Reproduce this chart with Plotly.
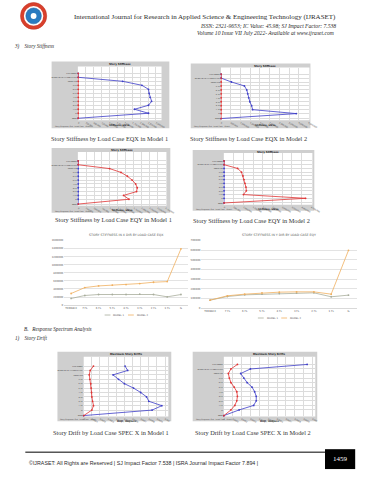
import plotly.graph_objects as go

W, H = 371, 480

# ---------------- data ----------------
levels = ["Base", "G", "1 FL", "2 FL", "3 FL", "4 FL", "5 FL", "6 FL", "7 FL",
          "TERRACE", "OVERHEAD WATER TANK", "LIFT ROOF"]
elev = [0, 3.75, 6.75, 9.75, 12.75, 15.75, 18.75, 21.75, 24.75, 27.75, 30.75, 33.75]

# story stiffness (kN/m), bottom -> top
eqx_m1_x = [0, 2.26e6, 1.81e6, 2.26e6, 2.36e6, 2.31e6, 2.28e6, 2.26e6, 2.05e6, 1.43e6, 0, 0]
eqx_m1_y = [0] * 12
eqx_m2_x = [0, 3.87e6, 1.62e6, 1.57e6, 1.48e6, 1.42e6, 1.37e6, 1.32e6, 1.2e6, 0.53e6, 0, 0]
eqx_m2_y = [0] * 12
eqy_m1_x = [0] * 12
eqy_m1_y = [0, 1.6e6, 1.43e6, 1.84e6, 1.86e6, 1.81e6, 1.7e6, 1.55e6, 1.35e6, 0.99e6, 0, 0]
eqy_m2_x = [0] * 12
eqy_m2_y = [0, 4.2e6, 1.0e6, 1.15e6, 1.13e6, 1.08e6, 1.03e6, 0.98e6, 0.9e6, 0.7e6, 0, 0]

# story drift (unitless), bottom -> top
drift_m1_x = [0, 8.4e-4, 9.6e-4, 8.0e-4, 7.72e-4, 7.0e-4, 6.12e-4, 5.0e-4, 4.28e-4, 3.6e-4, 5.4e-4, 5.08e-4]
drift_m1_y = [0, 1.0e-4, 1.2e-4, 1.08e-4, 1.0e-4, 0.96e-4, 0.92e-4, 0.88e-4, 0.76e-4, 0.68e-4, 0.8e-4, 1.2e-4]
drift_m2_x = [0, 1.72e-4, 3.36e-4, 3.65e-4, 3.65e-4, 3.47e-4, 3.18e-4, 2.63e-4, 2.26e-4, 1.9e-4, 2.99e-4, 9.38e-4]
drift_m2_y = [0, 0.8e-4, 1.24e-4, 1.46e-4, 1.53e-4, 1.46e-4, 1.17e-4, 0.8e-4, 0.62e-4, 0.51e-4, 0.8e-4, 1.53e-4]

# excel comparison charts
cats = ["TERRACE", "7 FL", "6 FL", "5 FL", "4 FL", "3 FL", "2 FL", "1 FL", "G"]
xdir_model1 = [164000, 238000, 262000, 262000, 262000, 270000, 262000, 205000, 262000]
xdir_model2 = [287000, 434000, 475000, 492000, 508000, 533000, 566000, 582000, 1393000]
ydir_model1 = [82000, 120000, 137000, 144000, 151000, 155000, 158000, 117000, 134000]
ydir_model2 = [82000, 127000, 144000, 158000, 165000, 168000, 168000, 144000, 598000]

# ---------------- helpers ----------------
fig = go.Figure()
shapes = []
annotations = []
layout_axes = {}


def fx(x):
    return x / W


def fy(y):
    return 1 - y / H


def text(x, y, s, size, color="#1e1e1e", family="Liberation Serif", xanchor="left",
         bold=False, italic=False, yanchor="middle"):
    if bold:
        s = "<b>" + s + "</b>"
    if italic:
        s = "<i>" + s + "</i>"
    annotations.append(dict(x=fx(x), y=fy(y), xref="paper", yref="paper", text=s,
                            showarrow=False, xanchor=xanchor, yanchor=yanchor,
                            font=dict(size=size, color=color, family=family)))


def rect(x0, y0, x1, y1, fill, line=None, lw=0):
    shapes.append(dict(type="rect", xref="paper", yref="paper", x0=fx(x0), x1=fx(x1),
                       y0=fy(y0), y1=fy(y1), fillcolor=fill,
                       line=dict(color=line or fill, width=lw), layer="below"))


def line(x0, y0, x1, y1, color, width=1):
    shapes.append(dict(type="line", xref="paper", yref="paper", x0=fx(x0), x1=fx(x1),
                       y0=fy(y0), y1=fy(y1), line=dict(color=color, width=width)))


def axes(n, px0, py0, px1, py1, xr, yr, **kw):
    xk = "xaxis" if n == 1 else f"xaxis{n}"
    yk = "yaxis" if n == 1 else f"yaxis{n}"
    layout_axes[xk] = dict(domain=[fx(px0), fx(px1)], range=xr, anchor=f"y{n}" if n > 1 else "y",
                           **kw.get("x", {}))
    layout_axes[yk] = dict(domain=[fy(py1), fy(py0)], range=yr, anchor=f"x{n}" if n > 1 else "x",
                           **kw.get("y", {}))
    return ("x" if n == 1 else f"x{n}"), ("y" if n == 1 else f"y{n}")


BLUE = "#3c3cc8"
RED = "#e03232"
FRAME = "#cfcfcf"


def etabs_panel(n, frame, plot, xr, yr, xdtick, blue_x, red_x, title, xtitle):
    fx0, fy0, fx1, fy1 = frame
    px0, py0, px1, py1 = plot
    rect(fx0, fy0, fx1, fy1, FRAME)
    rect(px0, py0, px1, py1, "#ffffff")
    xa, ya = axes(n, px0, py0, px1, py1, xr, yr,
                  x=dict(dtick=xdtick, tick0=0, showgrid=True, gridcolor="#dcdcdc", gridwidth=0.5,
                         zeroline=False, showline=False, ticks="", tickfont=dict(size=2.2, color="#333"),
                         ticklen=0, showexponent="none", exponentformat="none", separatethousands=False),
                  y=dict(tickvals=elev, ticktext=levels, showgrid=True, gridcolor="#dcdcdc",
                         gridwidth=0.5, zeroline=False, showline=False, ticks="",
                         tickfont=dict(size=2.2, color="#333")))
    fig.add_trace(go.Scatter(x=blue_x, y=elev, xaxis=xa, yaxis=ya, mode="lines+markers",
                             line=dict(color=BLUE, width=0.8), marker=dict(size=1.8, color=BLUE),
                             showlegend=False, cliponaxis=False))
    fig.add_trace(go.Scatter(x=red_x, y=elev, xaxis=xa, yaxis=ya, mode="lines+markers",
                             line=dict(color=RED, width=0.8), marker=dict(size=1.8, color=RED),
                             showlegend=False, cliponaxis=False))
    text((px0 + px1) / 2, fy0 + 2.5, title, 2.6, color="#222", family="DejaVu Sans", xanchor="center",
         bold=True)
    text((px0 + px1) / 2, py1 + 5, xtitle, 2.4, color="#222", family="DejaVu Sans", xanchor="center",
         bold=True)
    text(fx0 + 1, fy1 - 1.5, "Story Response Plot   Load Case   Model", 1.8, color="#444",
         family="DejaVu Sans")


# ---------------- page header ----------------
shapes.append(dict(type="circle", xref="paper", yref="paper", x0=fx(20), x1=fx(47), y0=fy(28.5),
                   y1=fy(1.5), fillcolor="#d8402c", line=dict(color="#c03020", width=0.5)))
shapes.append(dict(type="circle", xref="paper", yref="paper", x0=fx(23.5), x1=fx(43.5), y0=fy(25),
                   y1=fy(5), fillcolor="#ffffff", line=dict(width=0)))
shapes.append(dict(type="circle", xref="paper", yref="paper", x0=fx(25.5), x1=fx(41.5), y0=fy(23),
                   y1=fy(7), fillcolor="#2a7bc0", line=dict(color="#1d5f9c", width=0.5)))
shapes.append(dict(type="circle", xref="paper", yref="paper", x0=fx(30.5), x1=fx(36.5), y0=fy(18),
                   y1=fy(12), fillcolor="#ffffff", line=dict(width=0)))

text(73, 16.5, "International Journal for Research in Applied Science &amp; Engineering Technology (IJRASET)",
     7.0, xanchor="left", color="#2a2a2a")
text(346, 25, "ISSN: 2321-9653; IC Value: 45.98; SJ Impact Factor: 7.538", 5.6, xanchor="right",
     italic=True, color="#2a2a2a")
text(344, 32, "Volume 10 Issue VII July 2022- Available at www.ijraset.com", 5.6, xanchor="right",
     italic=True, color="#2a2a2a")
text(12, 45.5, "3)&nbsp;&nbsp;&nbsp;&nbsp;Story Stiffness", 5.2, italic=True, color="#2a2a2a")

# ---------------- ETABS stiffness panels ----------------
etabs_panel(1, (52, 61, 173, 128), (79, 66, 165, 120), [-1e4, 2.68e6], [-1.5, 38.8], 250000,
            eqx_m1_x, eqx_m1_y, "Story Stiffness", "Stiffness, kN/m")
etabs_panel(2, (195, 63, 318, 128), (226, 67, 317, 120), [-1e4, 4.55e6], [-1.3, 38.7], 500000,
            eqx_m2_x, eqx_m2_y, "Story Stiffness", "Stiffness, kN/m")
etabs_panel(3, (52, 148, 174, 213), (79, 152, 170, 206), [-1e4, 2.78e6], [-1.3, 40.7], 250000,
            eqy_m1_x, eqy_m1_y, "Story Stiffness", "Stiffness, kN/m")
etabs_panel(4, (197, 150, 322, 211), (229, 153, 320, 205), [-1e4, 4.55e6], [-1.4, 40.1], 500000,
            eqy_m2_x, eqy_m2_y, "Story Stiffness", "Stiffness, kN/m")

CAP = "#333333"
text(112, 138.5, "Story Stiffness by Load Case EQX in Model 1", 6.3, xanchor="center", color=CAP)
text(254, 138.5, "Story Stiffness by Load Case EQX in Model 2", 6.3, xanchor="center", color=CAP)
text(116, 219.5, "Story Stiffness by Load Case EQY in Model 1", 6.3, xanchor="center", color=CAP)
text(257, 221, "Story Stiffness by Load Case EQY in Model 2", 6.3, xanchor="center", color=CAP)

# ---------------- Excel comparison charts ----------------
GREY1 = "#a8ad9c"
ORANGE = "#f0b060"


def excel_chart(n, plot, yr, dtick, m1, m2, title):
    px0, py0, px1, py1 = plot
    xa, ya = axes(n, px0, py0, px1, py1, [-0.5, 8.5], yr,
                  x=dict(type="linear", tickvals=list(range(9)), ticktext=cats, showgrid=False,
                         zeroline=False, showline=True, linecolor="#d9d9d9", linewidth=0.5,
                         ticks="", tickfont=dict(size=2.6, color="#595959", family="DejaVu Sans")),
                  y=dict(dtick=dtick, tick0=0, showgrid=True, gridcolor="#e3e3e3", gridwidth=0.5,
                         zeroline=False, showline=False, ticks="", tickformat="d",
                         tickfont=dict(size=2.6, color="#595959", family="DejaVu Sans")))
    xs = list(range(9))
    fig.add_trace(go.Scatter(x=xs, y=m1, xaxis=xa, yaxis=ya, mode="lines+markers",
                             line=dict(color=GREY1, width=0.8), marker=dict(size=1.8, color=GREY1),
                             showlegend=False))
    fig.add_trace(go.Scatter(x=xs, y=m2, xaxis=xa, yaxis=ya, mode="lines+markers",
                             line=dict(color=ORANGE, width=0.8), marker=dict(size=1.8, color=ORANGE),
                             showlegend=False))
    cx = (px0 + px1) / 2
    text(cx, py0 - 6, title, 3.2, color="#595959", family="DejaVu Sans", xanchor="center")
    ly = py1 + 10
    line(cx - 22, ly, cx - 16, ly, GREY1, 0.8)
    text(cx - 15, ly, "MODEL 1", 2.4, color="#595959", family="DejaVu Sans")
    line(cx + 2, ly, cx + 8, ly, ORANGE, 0.8)
    text(cx + 9, ly, "MODEL 2", 2.4, color="#595959", family="DejaVu Sans")


excel_chart(5, (65, 241, 192, 306), [0, 1600000], 200000, xdir_model1, xdir_model2,
            "STORY STIFFNESS IN X DIR BY LOAD CASE EQX")
excel_chart(6, (206, 241, 366, 309), [0, 700000], 100000, ydir_model1, ydir_model2,
            "STORY STIFFNESS IN Y DIR BY LOAD CASE EQY")

# ---------------- Response spectrum ----------------
text(22, 330.5, "B.&nbsp;&nbsp;&nbsp;Response Spectrum Analysis", 5.2, italic=True, color="#2a2a2a")
text(12, 339.5, "1)&nbsp;&nbsp;&nbsp;&nbsp;Story Drift", 5.2, italic=True, color="#2a2a2a")

etabs_panel(7, (58, 353, 175, 423), (85, 358, 172, 418), [0, 1.04e-3], [-0.55, 40.1], 1e-4,
            drift_m1_x, drift_m1_y, "Maximum Story Drifts", "Drift, Unitless")
etabs_panel(8, (197, 353, 325, 423), (229, 358, 323, 418), [0, 1.03e-3], [-0.5, 38.8], 1e-4,
            drift_m2_x, drift_m2_y, "Maximum Story Drifts", "Drift, Unitless")

text(113, 434.5, "Story Drift by Load Case SPEC X in Model 1", 6.3, xanchor="center", color=CAP)
text(259, 434.5, "Story Drift by Load Case SPEC X in Model 2", 6.3, xanchor="center", color=CAP)

# ---------------- footer ----------------
line(25, 454, 346, 454, "#000", 1)
text(27, 464.5, "©IJRASET: All Rights are Reserved | SJ Impact Factor 7.538 | ISRA Journal Impact Factor 7.894 |",
     5.3, family="Liberation Sans", color="#2a2a2a")
shapes.append(dict(type="rect", xref="paper", yref="paper", x0=fx(333), x1=fx(364), y0=fy(471),
                   y1=fy(451), fillcolor="#000", line=dict(width=0)))
text(348.5, 461, "1459", 7, color="#fff", xanchor="center")

fig.update_layout(width=W, height=H, margin=dict(l=0, r=0, t=0, b=0), paper_bgcolor="#ffffff",
                  plot_bgcolor="rgba(0,0,0,0)", shapes=shapes, annotations=annotations,
                  showlegend=False, **layout_axes)
fig.write_html("out.html")
